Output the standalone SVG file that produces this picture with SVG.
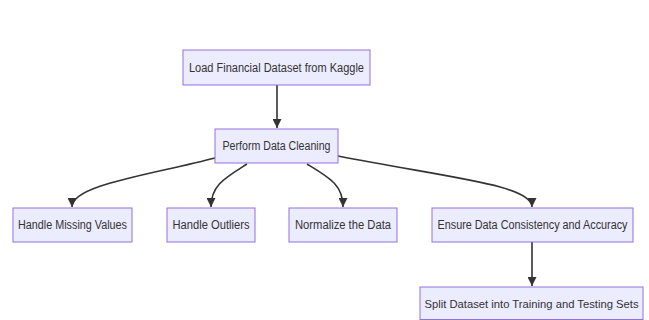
<svg xmlns="http://www.w3.org/2000/svg" width="649" height="320" viewBox="0 0 649 320">
  <style>
    .node rect { fill: #ECECFF; stroke: #9370DB; stroke-width: 1; }
    .node text { font-family: "Liberation Sans", Arial, sans-serif; font-size: 12px; fill: #333333; text-anchor: middle; dominant-baseline: central; }
    .node text.small { font-size: 11.5px; }
    .edge { fill: none; stroke: #333333; stroke-width: 1.6; }
  </style>
  <defs>
    <marker id="arrowhead" viewBox="0 0 10 10" refX="10" refY="5" markerWidth="9" markerHeight="9" markerUnits="userSpaceOnUse" orient="auto">
      <path d="M0,0 L10,5 L0,10 Z" fill="#333333"/>
    </marker>
  </defs>
  <rect width="649" height="320" fill="#ffffff"/>

  <g id="connectors">
    <path class="edge" d="M277,85 L277,128" marker-end="url(#arrowhead)"/>
    <path class="edge" d="M215,158 C150,175 72,185 72,207" marker-end="url(#arrowhead)"/>
    <path class="edge" d="M247,164 C225,178 211,185 211,207" marker-end="url(#arrowhead)"/>
    <path class="edge" d="M307,164 C330,178 343,185 343,207" marker-end="url(#arrowhead)"/>
    <path class="edge" d="M338,156 C450,178 532,185 532,207" marker-end="url(#arrowhead)"/>
    <path class="edge" d="M532,242 L532,286" marker-end="url(#arrowhead)"/>
  </g>

  <g id="load" class="node">
    <rect x="183" y="50" width="187" height="35"/>
    <text x="276.5" y="67.5" textLength="175" lengthAdjust="spacingAndGlyphs">Load Financial Dataset from Kaggle</text>
  </g>
  <g id="clean" class="node">
    <rect x="215" y="129" width="123" height="34"/>
    <text x="276.5" y="146" textLength="108" lengthAdjust="spacingAndGlyphs">Perform Data Cleaning</text>
  </g>
  <g id="missing" class="node">
    <rect x="13" y="208" width="119" height="34"/>
    <text x="72.5" y="225" textLength="109" lengthAdjust="spacingAndGlyphs">Handle Missing Values</text>
  </g>
  <g id="outliers" class="node">
    <rect x="167" y="208" width="88" height="34"/>
    <text x="211" y="225" textLength="77" lengthAdjust="spacingAndGlyphs">Handle Outliers</text>
  </g>
  <g id="normalize" class="node">
    <rect x="289" y="208" width="108" height="34"/>
    <text x="343" y="225" textLength="96" lengthAdjust="spacingAndGlyphs">Normalize the Data</text>
  </g>
  <g id="consistency" class="node">
    <rect x="432" y="208" width="201" height="34"/>
    <text x="532.5" y="225" textLength="190" lengthAdjust="spacingAndGlyphs">Ensure Data Consistency and Accuracy</text>
  </g>
  <g id="split" class="node">
    <rect x="420" y="287" width="223" height="32.5"/>
    <text class="small" x="531.5" y="304" textLength="214" lengthAdjust="spacingAndGlyphs">Split Dataset into Training and Testing Sets</text>
  </g>
</svg>
